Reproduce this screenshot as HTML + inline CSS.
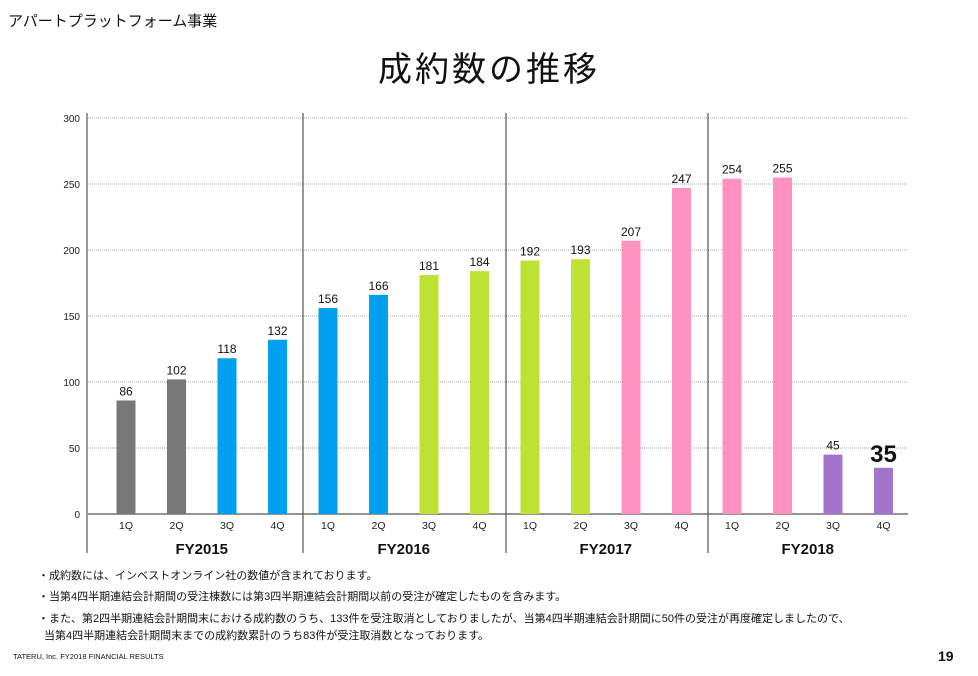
<!DOCTYPE html>
<html><head><meta charset="utf-8"><style>
body{margin:0;width:978px;height:676px;background:#fff;font-family:"Liberation Sans","Noto Sans CJK JP",sans-serif;position:relative;overflow:hidden;color:#111}
.a{position:absolute;white-space:nowrap}
</style></head><body>
<div class="a" style="left:8px;top:10px;font-size:15px">アパートプラットフォーム事業</div>
<div class="a" style="left:0;width:978px;text-align:center;top:42px;font-size:34px;letter-spacing:3px">成約数の推移</div>
<svg class="a" style="left:0;top:0" width="978" height="676">
<g id="g"></g></svg>
<div class="a" style="left:38px;top:567px;font-size:11px">・成約数には、インベストオンライン社の数値が含まれております。</div>
<div class="a" style="left:38px;top:588px;font-size:11px">・当第4四半期連結会計期間の受注棟数には第3四半期連結会計期間以前の受注が確定したものを含みます。</div>
<div class="a" style="left:38px;top:610px;font-size:11px">・また、第2四半期連結会計期間末における成約数のうち、133件を受注取消としておりましたが、当第4四半期連結会計期間に50件の受注が再度確定しましたので、</div>
<div class="a" style="left:44px;top:627px;font-size:11px">当第4四半期連結会計期間末までの成約数累計のうち83件が受注取消数となっております。</div>
<div class="a" style="left:13px;top:652px;font-size:7.5px">TATERU, Inc. FY2018 FINANCIAL RESULTS</div>
<div class="a" style="left:938px;top:648px;font-size:14px;font-weight:bold">19</div>
<script>
const years=["FY2015","FY2016","FY2017","FY2018"];
const quarters=["1Q","2Q","3Q","4Q"];
const values=[86,102,118,132,156,166,181,184,192,193,207,247,254,255,45,35];
const colors=["#787878","#787878","#00a0ef","#00a0ef","#00a0ef","#00a0ef","#bde234","#bde234","#bde234","#bde234","#ff92c0","#ff92c0","#ff92c0","#ff92c0","#a474cd","#a474cd"];
const yTicks=[0,50,100,150,200,250,300];
const NS="http://www.w3.org/2000/svg",g=document.getElementById('g');
const y=v=>514-v*396/300, x=i=>126+i*50.5;
function mk(t,a,txt){const e=document.createElementNS(NS,t);for(const k in a)e.setAttribute(k,a[k]);if(txt!=null)e.textContent=txt;g.appendChild(e);return e;}
yTicks.forEach(t=>{
 if(t>0){const l=mk('line',{x1:88,x2:908,y1:y(t),y2:y(t),stroke:'#888','stroke-width':0.8,'stroke-dasharray':'1,1'});
 
 }
 const tx=mk('text',{x:80,y:y(t)+4,'text-anchor':'end','font-size':10,fill:'#222'},t);
 
 
});
const ax=mk('line',{x1:88,x2:908,y1:514,y2:514,stroke:'#555','stroke-width':1.3});


[87,303,506,708].forEach((px,k)=>{
 const l=mk('line',{x1:px,x2:px,y1:k?113:113,y2:553,stroke:'#555','stroke-width':1.2});
 
 
});
values.forEach((v,i)=>{
 const r=mk('rect',{x:x(i)-9.5,y:y(v),width:19,height:514-y(v),fill:colors[i]});
 
 
 const big=i===15;
 const lb=mk('text',{x:x(i),y:y(v)-(big?6:5),'text-anchor':'middle','font-size':big?24:12,'font-weight':big?'bold':'normal',fill:'#111'},v);
 
 
 const q=mk('text',{x:x(i),y:529,'text-anchor':'middle','font-size':10.5,fill:'#222'},quarters[i%4]);
 
 
});
years.forEach((yr,k)=>{
 const t=mk('text',{x:(x(k*4)+x(k*4+3))/2,y:554,'text-anchor':'middle','font-size':15,'font-weight':'bold',fill:'#111'},yr);
 
 
});
</script>
</body></html>
